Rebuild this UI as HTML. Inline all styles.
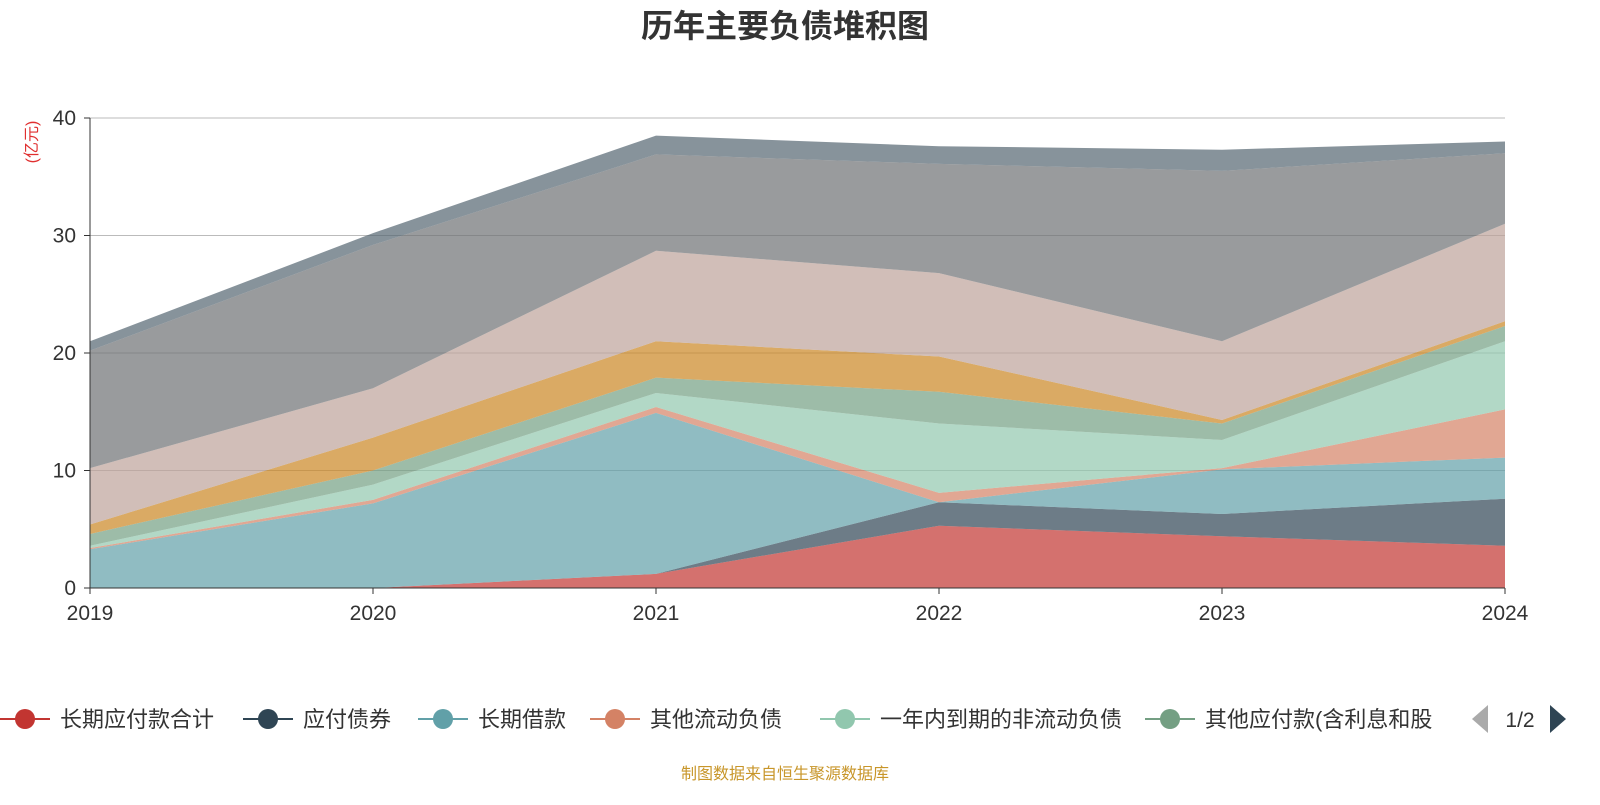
<!DOCTYPE html>
<html><head><meta charset="utf-8">
<style>
body{margin:0;background:#fff;}
svg text{font-family:"Liberation Sans","Noto Sans CJK SC",sans-serif;}
</style></head>
<body>
<svg id="chart" width="1600" height="800">
<text x="785" y="37" text-anchor="middle" font-size="32" font-weight="bold" fill="#333">历年主要负债堆积图</text>
<text transform="translate(37,142) rotate(-90)" text-anchor="middle" font-size="16" fill="#e03030">(亿元)</text>
<g id="grid"></g>
<g id="areas"></g>
<g id="axes"></g>
<g id="legend"></g>
<text x="785" y="779" text-anchor="middle" font-size="16" fill="#c8962a">制图数据来自恒生聚源数据库</text>
</svg>
<script>
const categories=["2019","2020","2021","2022","2023","2024"];
const seriesNames=["长期应付款合计","应付债券","长期借款","其他流动负债","一年内到期的非流动负债","其他应付款(含利息和股","应付票据及应付账款","合同负债","短期借款","其他负债"];
const s1=[0,0,1.2,5.3,4.4,3.6];
const s2=[0,0,0,2.0,1.9,4.0];
const s3=[3.3,7.2,13.7,0,3.8,3.5];
const s4=[0.1,0.3,0.5,0.8,0.1,4.1];
const s5=[0.2,1.3,1.2,5.9,2.4,5.8];
const s6=[1.0,1.2,1.3,2.7,1.4,1.3];
const s7=[0.8,2.8,3.1,3.0,0.3,0.4];
const s8=[4.8,4.2,7.7,7.1,6.7,8.3];
const s9=[10.0,12.2,8.2,9.3,14.5,6.0];
const s10=[0.8,1.0,1.6,1.5,1.8,1.0];
const yTicks=[0,10,20,30,40];
const seriesValues=[s1,s2,s3,s4,s5,s6,s7,s8,s9,s10];
const colors=["#c23531","#2f4554","#61a0a8","#d48265","#91c7ae","#749f83","#ca8622","#bda29a","#6e7074","#546570"];
const NS="http://www.w3.org/2000/svg";
const x0=90,x1=1505,y0=588,y1=118;
const xs=i=>x0+(x1-x0)*i/(categories.length-1);
const ys=v=>y0-(y0-y1)*v/40;
function mk(t,a,p){const e=document.createElementNS(NS,t);for(const k in a)e.setAttribute(k,a[k]);p.appendChild(e);return e;}
const grid=document.getElementById('grid'),axes=document.getElementById('axes'),areas=document.getElementById('areas'),legend=document.getElementById('legend');
yTicks.forEach(v=>{
 if(v>0){const l=mk('line',{x1:x0,x2:x1,y1:ys(v),y2:ys(v),stroke:'#bbb','stroke-width':1},grid);
 
 }
 const t=mk('text',{x:x0-14,y:ys(v)+7,'text-anchor':'end','font-size':21,fill:'#333'},axes);t.textContent=v;
 
 
 mk('line',{x1:x0-6,x2:x0,y1:ys(v),y2:ys(v),stroke:'#333'},axes);
});
let base=categories.map(()=>0);
seriesValues.forEach((vals,si)=>{
 const top=base.map((b,i)=>b+vals[i]);
 let d='M'+top.map((v,i)=>xs(i)+','+ys(v)).join(' L');
 for(let i=categories.length-1;i>=0;i--)d+=' L'+xs(i)+','+ys(base[i]);
 d+='Z';
 const p=mk('path',{d:d,fill:colors[si],'fill-opacity':0.7,stroke:'none'},areas);
 
 
 base=top;
});
mk('line',{x1:x0,x2:x0,y1:y1,y2:y0,stroke:'#333'},axes);
mk('line',{x1:x0,x2:x1,y1:y0,y2:y0,stroke:'#333'},axes);
categories.forEach((c,i)=>{
 mk('line',{x1:xs(i),x2:xs(i),y1:y0,y2:y0+6,stroke:'#333'},axes);
 const t=mk('text',{x:xs(i),y:y0+32,'text-anchor':'middle','font-size':21,fill:'#333'},axes);t.textContent=c;
 
 
});
const lx=[0,243,418,590,820,1145];
for(let i=0;i<6;i++){
 const g=mk('g',{},legend);
 
 
 mk('line',{x1:lx[i],x2:lx[i]+50,y1:719,y2:719,stroke:colors[i],'stroke-width':2},g);
 mk('circle',{cx:lx[i]+25,cy:719,r:10,fill:colors[i]},g);
 const t=mk('text',{x:lx[i]+60,y:727,'font-size':22,fill:'#333'},g);t.textContent=seriesNames[i];
}
const pg=mk('g',{},legend);
mk('polygon',{points:'1472,719 1488,705 1488,733',fill:'#aaa'},pg);
const pt=mk('text',{x:1520,y:727,'text-anchor':'middle','font-size':21,fill:'#333'},pg);pt.textContent='1/2';
const nx=mk('polygon',{points:'1566,719 1550,705 1550,733',fill:'#2f4554'},pg);


</script>
</body></html>
